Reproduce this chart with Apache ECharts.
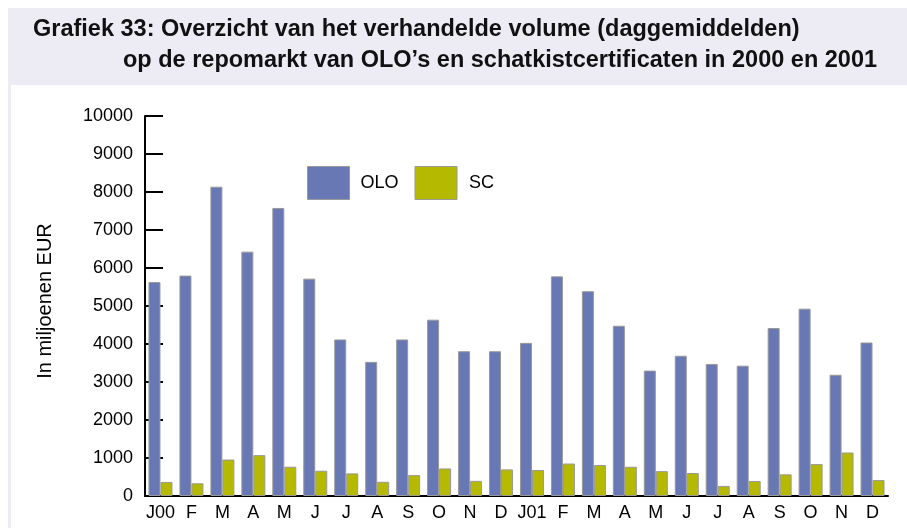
<!DOCTYPE html>
<html>
<head>
<meta charset="utf-8">
<script src="https://cdn.jsdelivr.net/npm/echarts@6/dist/echarts.min.js"></script>
<style>
  html, body { margin: 0; padding: 0; background: #fff; }
  #main { width: 907px; height: 528px; }
</style>
</head>
<body>
<div id="main"></div>
<script>
var chart = echarts.init(document.getElementById('main'));

// maanden 2000 - 2001
var months = ['J00', 'F', 'M', 'A', 'M', 'J', 'J', 'A', 'S', 'O', 'N', 'D',
              'J01', 'F', 'M', 'A', 'M', 'J', 'J', 'A', 'S', 'O', 'N', 'D'];
// daggemiddelden, in miljoenen EUR
var olo = [5630, 5800, 8140, 6430, 7580, 5720, 4120, 3530, 4120, 4640, 3810, 3810,
           4030, 5780, 5390, 4480, 3300, 3690, 3475, 3430, 4420, 4930, 3190, 4040];
var sc = [370, 335, 960, 1075, 770, 665, 595, 375, 550, 725, 400, 700,
          685, 855, 815, 770, 655, 605, 265, 395, 570, 840, 1145, 420];

var oloColor = '#6878b4';
var scColor = '#b5ba00';
var frameColor = '#edecf5';
var font = 'Liberation Sans, Arial, sans-serif';

option = {
    backgroundColor: '#fff',
    animation: false,
    textStyle: { fontFamily: font },
    graphic: [
        { type: 'rect', shape: { x: 8, y: 8, width: 899, height: 77 }, style: { fill: frameColor }, silent: true },
        { type: 'rect', shape: { x: 8, y: 85, width: 3, height: 443 }, style: { fill: frameColor }, silent: true },
        { type: 'text', left: 33, top: 18,
          style: { text: 'Grafiek 33: Overzicht van het verhandelde volume (daggemiddelden)',
                   font: 'bold 23.5px ' + font, fill: '#111' } },
        { type: 'text', left: 123, top: 49,
          style: { text: 'op de repomarkt van OLO\u2019s en schatkistcertificaten in 2000 en 2001',
                   font: 'bold 23.5px ' + font, fill: '#111' } }
    ],
    legend: {
        left: 307,
        top: 166,
        padding: 0,
        itemWidth: 42,
        itemHeight: 33,
        itemGap: 16,
        textStyle: { fontSize: 18, color: '#000', padding: [0, 0, 0, 6] },
        data: [
            { name: 'OLO', icon: 'rect', itemStyle: { color: oloColor, borderColor: '#999', borderWidth: 1 } },
            { name: 'SC', icon: 'rect', itemStyle: { color: scColor, borderColor: '#999', borderWidth: 1 },
              textStyle: { fontSize: 18, color: '#000', padding: [0, 0, 0, 7] } }
        ]
    },
    grid: {
        left: 145,
        right: 19,
        top: 116,
        bottom: 32
    },
    xAxis: {
        type: 'category',
        data: months,
        axisLine: { lineStyle: { color: '#000', width: 2 } },
        axisTick: { show: false },
        axisLabel: { color: '#000', fontSize: 18, margin: 8, interval: 0 }
    },
    yAxis: {
        type: 'value',
        min: 0,
        max: 10000,
        interval: 1000,
        name: 'In miljoenen EUR',
        nameLocation: 'middle',
        nameGap: 90,
        nameTextStyle: { fontSize: 20, color: '#000', padding: [0, 0, 0, 10] },
        axisLine: { show: true, lineStyle: { color: '#000', width: 2 } },
        axisTick: { show: true, inside: true, length: 18, lineStyle: { color: '#000', width: 2 } },
        axisLabel: { color: '#000', fontSize: 18, margin: 12, formatter: function (v) { return String(v); } },
        splitLine: { show: false }
    },
    series: [{
        name: 'OLO',
        type: 'bar',
        data: olo,
        barWidth: 12,
        barGap: '0%',
        itemStyle: { color: oloColor, borderColor: '#999', borderWidth: 1 }
    }, {
        name: 'SC',
        type: 'bar',
        data: sc,
        barWidth: 12,
        itemStyle: { color: scColor, borderColor: '#999', borderWidth: 1 }
    }]
};

chart.setOption(option);
</script>
</body>
</html>
